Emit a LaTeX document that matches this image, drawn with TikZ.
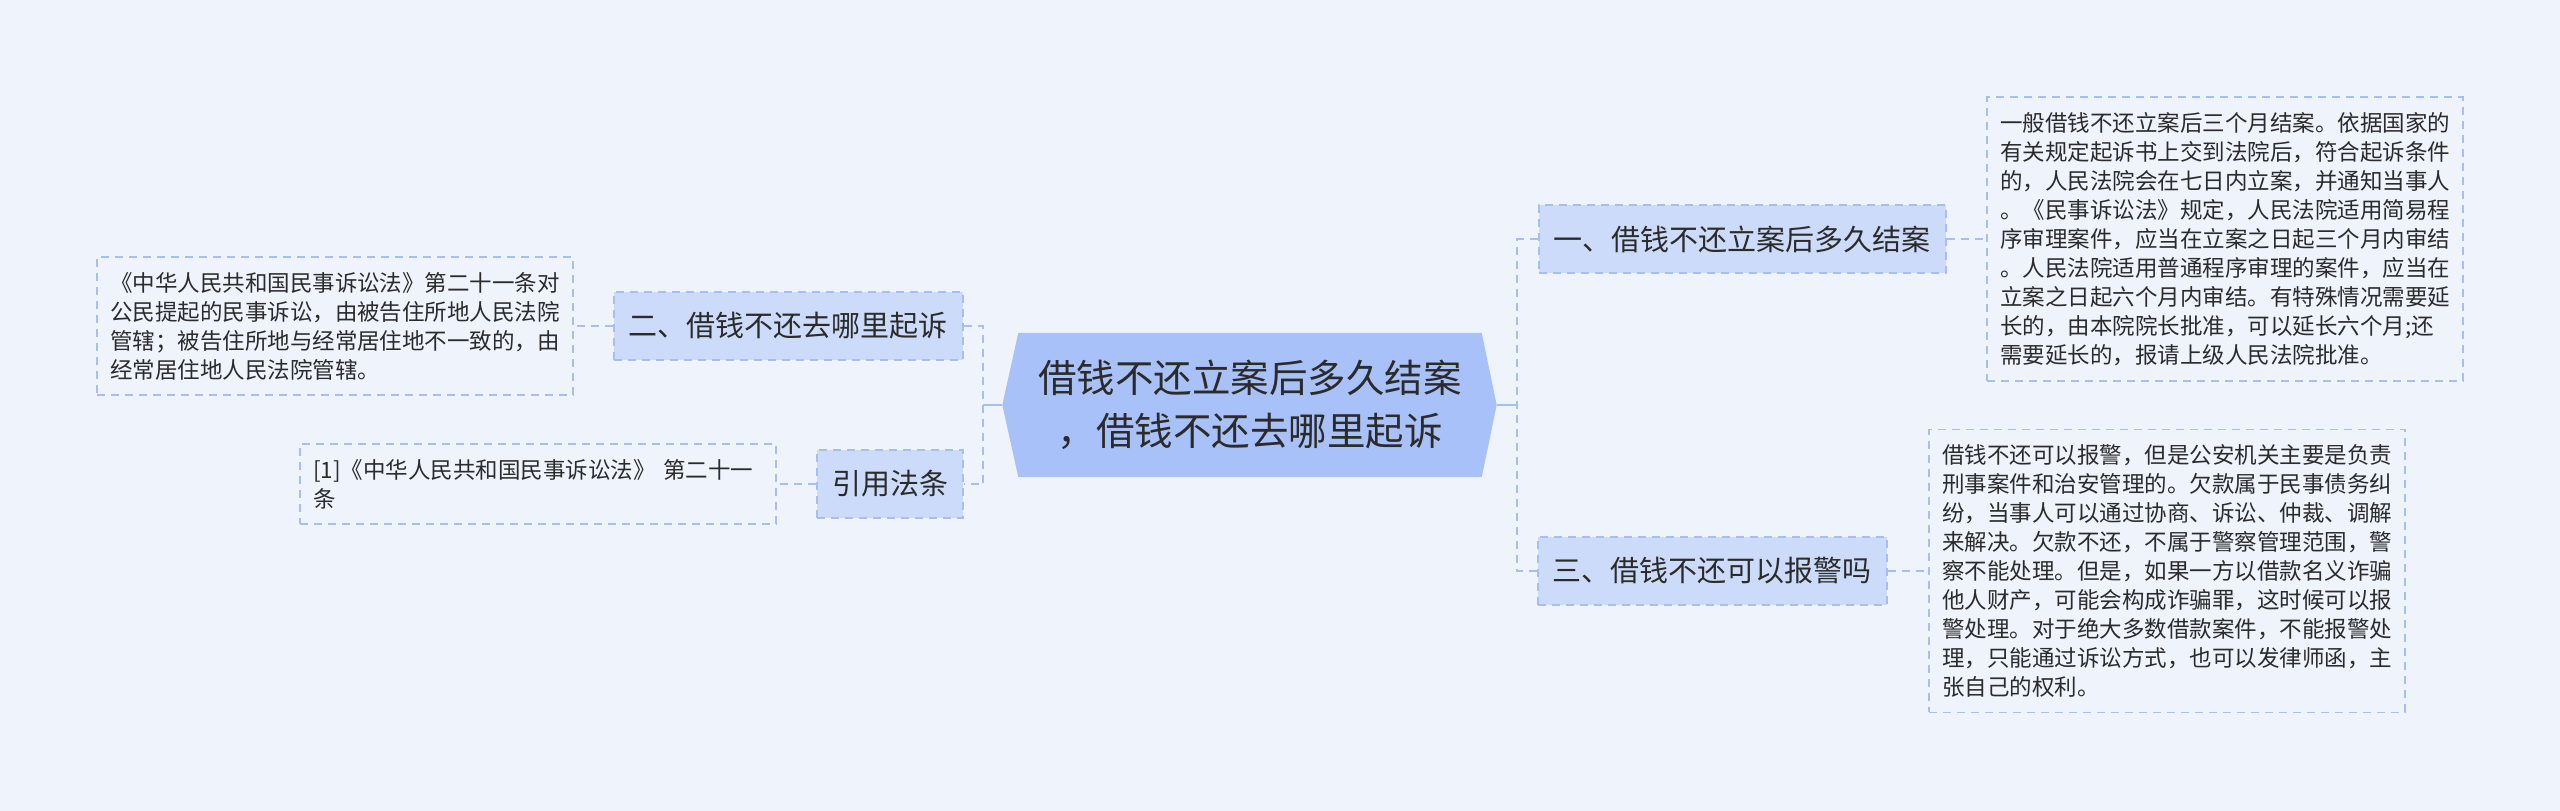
\documentclass[tikz,border=0pt]{standalone}
\usepackage{fontspec}
\setmainfont{Noto Sans CJK SC}
\usetikzlibrary{backgrounds}

\definecolor{bgblue}{HTML}{EEF3FC}
\definecolor{rootblue}{HTML}{A9C1F9}
\definecolor{subblue}{HTML}{CDDBFA}
\definecolor{linkblue}{HTML}{A6BEF0}
\definecolor{inkgray}{HTML}{2B2B2B}

\begin{document}
\begin{tikzpicture}[x=1pt, y=-1pt,
  rootbox/.style={minimum width=463pt, minimum height=144pt, inner sep=0pt, align=center, text=inkgray, font=\fontsize{38.5}{53}\selectfont},
  branch/.style={draw=linkblue, line width=2pt, dash pattern=on 8pt off 6pt, fill=subblue, minimum height=68pt, inner xsep=15pt, text=inkgray, font=\fontsize{29}{34}\selectfont},
  leaf/.style={draw=linkblue, line width=1.8pt, dash pattern=on 8pt off 6pt, fill=bgblue, text width=450pt, align=left, inner xsep=13pt, inner ysep=15pt, text=inkgray, font=\fontsize{22.5}{29}\selectfont},
  dashlink/.style={draw=linkblue, line width=2pt, dash pattern=on 8pt off 6pt},
  solidlink/.style={draw=linkblue, line width=2.5pt}]
  \useasboundingbox (0,0) rectangle (2560,811);

  % Centre: the topic
  \node[rootbox] (root) at (1250,405) {借钱不还立案后多久结案\\，借钱不还去哪里起诉};
  \coordinate (lspine) at (983,405);
  \coordinate (rspine) at (1517,405);

  % Left side
  \node[branch] (two) at (788,326) {二、借钱不还去哪里起诉};
  \node[branch] (cite) at (890,484) {引用法条};
  \node[leaf] (twotext) at (335,326) {《中华人民共和国民事诉讼法》第二十一条对\\公民提起的民事诉讼，由被告住所地人民法院\\管辖；被告住所地与经常居住地不一致的，由\\经常居住地人民法院管辖。};
  \node[leaf] (citetext) at (538,484) {[1]《中华人民共和国民事诉讼法》 第二十一\\条};

  % Right side
  \node[branch] (one) at (1742,239) {一、借钱不还立案后多久结案};
  \node[branch] (three) at (1712,571) {三、借钱不还可以报警吗};
  \node[leaf] (onetext) at (2225,239) {一般借钱不还立案后三个月结案。依据国家的\\有关规定起诉书上交到法院后，符合起诉条件\\的，人民法院会在七日内立案，并通知当事人\\。《民事诉讼法》规定，人民法院适用简易程\\序审理案件，应当在立案之日起三个月内审结\\。人民法院适用普通程序审理的案件，应当在\\立案之日起六个月内审结。有特殊情况需要延\\长的，由本院院长批准，可以延长六个月;还\\需要延长的，报请上级人民法院批准。};
  \node[leaf] (threetext) at (2167,571) {借钱不还可以报警，但是公安机关主要是负责\\刑事案件和治安管理的。欠款属于民事债务纠\\纷，当事人可以通过协商、诉讼、仲裁、调解\\来解决。欠款不还，不属于警察管理范围，警\\察不能处理。但是，如果一方以借款名义诈骗\\他人财产，可能会构成诈骗罪，这时候可以报\\警处理。对于绝大多数借款案件，不能报警处\\理，只能通过诉讼方式，也可以发律师函，主\\张自己的权利。};

  % Background and the topic's hexagon
  \begin{scope}[on background layer]
    \fill[bgblue] (0,0) rectangle (2560,811);
    \fill[rootblue] ([xshift=-16pt]root.west) -- (root.north west) -- (root.north east) -- ([xshift=15pt]root.east) -- (root.south east) -- (root.south west) -- cycle;
  \end{scope}

  % Connectors
  \draw[solidlink] ([xshift=-16pt]root.west) -- (lspine);
  \draw[solidlink] ([xshift=15pt]root.east) -- (rspine);
  \draw[dashlink] (two.east) -| (lspine) |- (cite.east);
  \draw[dashlink] (one.west) -| (rspine) |- (three.west);
  \draw[dashlink] (two.west) -- (twotext.east);
  \draw[dashlink] (cite.west) -- (citetext.east);
  \draw[dashlink] (one.east) -- (onetext.west);
  \draw[dashlink] (three.east) -- (threetext.west);
\end{tikzpicture}
\end{document}
